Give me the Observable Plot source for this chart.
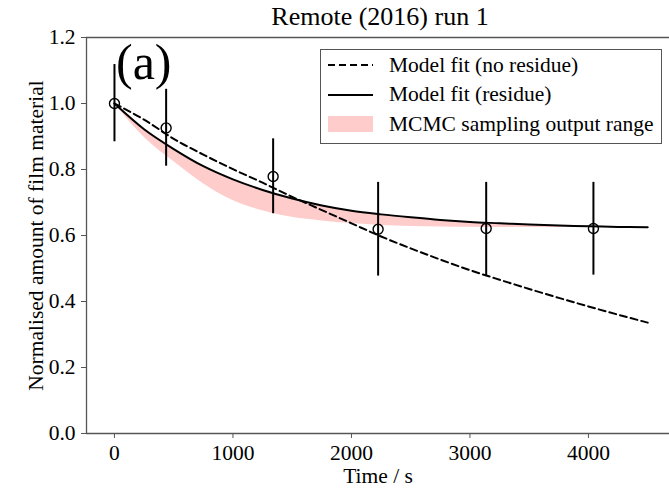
<!DOCTYPE html>
<html>
<head>
<meta charset="utf-8">
<script src="https://cdn.jsdelivr.net/npm/d3@7"></script>
<script src="https://cdn.jsdelivr.net/npm/@observablehq/plot@0.6"></script>
<style>
  html, body { margin: 0; padding: 0; background: #fff; overflow: hidden; }
  #wrap { position: relative; width: 669px; height: 489px; font-family: "Liberation Serif", serif; color: #000; }
  #chart { position: absolute; left: 0; top: 0; }
  #title { position: absolute; left: 180px; width: 400px; top: 4px; text-align: center; font-size: 26px; line-height: 26px; }
  #panel { position: absolute; left: 116px; top: 37px; font-size: 50px; line-height: 50px; }
  #legend { position: absolute; left: 320px; top: 49px; width: 340px; height: 93px; border: 1.3px solid #555; background: #fff; font-size: 21.5px; }
  .row { position: absolute; left: 0; height: 30px; display: flex; align-items: center; }
  .row svg { margin-left: 7px; margin-right: 16px; }
</style>
</head>
<body>
<div id="wrap">
  <div id="chart"></div>
  <div id="title">Remote (2016) run 1</div>
  <div id="panel">(a)</div>
  <div id="legend"></div>
</div>
<script>
// Measured data points with error bars
const sampleTime = [0, 436, 1339, 2225, 3137, 4042];
const sampleValue = [1.0, 0.926, 0.779, 0.619, 0.621, 0.621];
const sampleLow = [0.884, 0.810, 0.666, 0.477, 0.477, 0.480];
const sampleHigh = [1.118, 1.043, 0.893, 0.761, 0.761, 0.761];

// Model curves
const curveTime = [0, 250, 500, 750, 1000, 1250, 1500, 1750, 2000, 2250, 2500, 2750, 3000, 3250, 3500, 3750, 4000, 4250, 4500];
const fitNoResidue = [1.0, 0.951, 0.893, 0.845, 0.801, 0.760, 0.717, 0.677, 0.637, 0.597, 0.561, 0.527, 0.495, 0.466, 0.438, 0.411, 0.385, 0.360, 0.336];
const fitResidue = [1.0, 0.922, 0.862, 0.810, 0.770, 0.738, 0.712, 0.691, 0.675, 0.664, 0.655, 0.647, 0.641, 0.637, 0.633, 0.630, 0.628, 0.626, 0.625];
const mcmcLow = [1.0, 0.898, 0.824, 0.757, 0.706, 0.675, 0.655, 0.644, 0.636, 0.630, 0.627, 0.626, 0.625, 0.624, 0.624, 0.624, 0.624, 0.624, 0.624];
const mcmcHigh = [1.0, 0.922, 0.862, 0.810, 0.770, 0.738, 0.712, 0.691, 0.675, 0.664, 0.655, 0.647, 0.641, 0.637, 0.633, 0.630, 0.628, 0.626, 0.625];

const xTicks = [0, 1000, 2000, 3000, 4000];
const yTicks = [0, 0.2, 0.4, 0.6, 0.8, 1.0, 1.2];

const legendLabels = ["Model fit (no residue)", "Model fit (residue)", "MCMC sampling output range"];

const samples = sampleTime.map((t, i) => ({t, v: sampleValue[i], lo: sampleLow[i], hi: sampleHigh[i]}));
const curves = curveTime.map((t, i) => ({t, a: fitNoResidue[i], b: fitResidue[i], lo: mcmcLow[i], hi: mcmcHigh[i]}));

const xDomain = [-236, 4684];
const yDomain = [yTicks[0], yTicks[yTicks.length - 1]];
const spine = "#555";

const chart = Plot.plot({
  width: 669,
  height: 489,
  marginLeft: 86,
  marginRight: 0,
  marginTop: 37,
  marginBottom: 56,
  style: {fontFamily: "Liberation Serif, serif", fontSize: "21.5px", color: "#000", background: "transparent", overflow: "visible"},
  x: {domain: xDomain},
  y: {domain: yDomain},
  marks: [
    Plot.areaY(curves, {x: "t", y1: "lo", y2: "hi", fill: "#ffcccc", curve: "monotone-x"}),
    Plot.line(curves, {x: "t", y: "a", stroke: "#000", strokeWidth: 2, strokeDasharray: "7,4", curve: "monotone-x"}),
    Plot.line(curves, {x: "t", y: "b", stroke: "#000", strokeWidth: 2, curve: "monotone-x"}),
    Plot.ruleX(samples, {x: "t", y1: "lo", y2: "hi", stroke: "#000", strokeWidth: 2}),
    Plot.dot(samples, {x: "t", y: "v", r: 5, stroke: "#000", strokeWidth: 1.4, fill: "none"}),
    Plot.ruleY([yDomain[0], yDomain[1]], {stroke: spine, strokeWidth: 1.3}),
    Plot.ruleX([xDomain[0]], {stroke: spine, strokeWidth: 1.3}),
    Plot.axisX({ticks: xTicks, tickSize: 5, tickPadding: 6, stroke: spine, fill: "#000",
      tickFormat: d => String(d),
      label: "Time / s", labelAnchor: "center", labelArrow: "none", labelOffset: 49}),
    Plot.axisY({ticks: yTicks, tickSize: 5, tickPadding: 6, stroke: spine, fill: "#000",
      tickFormat: d => d.toFixed(1),
      label: "Normalised amount of film material", labelAnchor: "center", labelArrow: "none", labelOffset: 59})
  ]
});
document.getElementById("chart").appendChild(chart);

// Legend
const leg = document.getElementById("legend");
const rowTops = [0, 29.5, 59];
const swatches = [
  '<svg width="45" height="16"><line x1="0" x2="45" y1="8" y2="8" stroke="#000" stroke-width="2" stroke-dasharray="7,4"/></svg>',
  '<svg width="45" height="16"><line x1="0" x2="45" y1="8" y2="8" stroke="#000" stroke-width="2"/></svg>',
  '<svg width="45" height="16"><rect x="0" y="0" width="45" height="16" fill="#ffcccc"/></svg>'
];
legendLabels.forEach((lab, i) => {
  const r = document.createElement("div");
  r.className = "row";
  r.style.top = rowTops[i] + "px";
  r.innerHTML = swatches[i] + "<span>" + lab + "</span>";
  leg.appendChild(r);
});
</script>
</body>
</html>
